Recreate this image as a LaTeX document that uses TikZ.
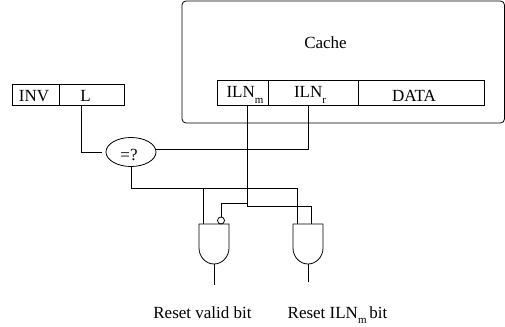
\documentclass[tikz,border=0pt]{standalone}
\usepackage{fontspec}
\setmainfont{Liberation Serif}
\usetikzlibrary{shapes.geometric}
\newcommand{\lowsub}[1]{\raisebox{-5.5pt}{\fontsize{11}{12}\selectfont #1}}
\tikzset{
    cell/.style={draw, line width=0.8pt, minimum height=25pt, inner sep=0pt},
    lbl/.style={inner sep=0pt, anchor=base, font=\fontsize{17}{18}\selectfont},
    wire/.style={line width=0.8pt},
}
\begin{document}
\begin{tikzpicture}[x=1pt,y=-1pt]
    \useasboundingbox (0,0) rectangle (505,326);

    % Cache
    \draw[wire, rounded corners=4pt] (182,1) rectangle (504.5,123);
    \node[lbl] (cache) at (325.5,48.5) {Cache};

    % Ligne du cache
    \node[cell, minimum width=51pt] (ilnm) at (242.5,92.5) {};
    \node[cell, minimum width=90pt] (ilnr) at (313,92.5) {};
    \node[cell, minimum width=126pt] (data) at (421,92.5) {};
    \node[lbl] (ilnmtxt) at (245,98) {ILN\lowsub{m}};
    \node[lbl] (ilnrtxt) at (310,98) {ILN\lowsub{r}};
    \node[lbl] (datatxt) at (414,102) {DATA};

    % Registre
    \node[cell, minimum width=47pt, minimum height=21pt] (inv) at (35.5,94.5) {};
    \node[cell, minimum width=65pt, minimum height=21pt] (l) at (91.5,94.5) {};
    \node[lbl] (invtxt) at (34,102) {INV};
    \node[lbl] (ltxt) at (85.5,102) {L};

    % Comparateur
    \node[draw, wire, ellipse, minimum width=50pt, minimum height=29pt, inner sep=0pt] (cmp) at (131,152) {};
    \node[lbl] (cmptxt) at (129,160) {=?};

    % Portes
    \draw[wire] (199,224) -- (229,224) -- (229,248)
        .. controls (229,257) and (222,264) .. (214,264)
        .. controls (206,264) and (199,257) .. (199,248) -- cycle;
    \draw[wire] (293,224) -- (323,224) -- (323,248)
        .. controls (323,257) and (316,264) .. (308,264)
        .. controls (300,264) and (293,257) .. (293,248) -- cycle;
    \node[draw, wire, circle, minimum size=7pt, inner sep=0pt] (bubble) at (221,220.5) {};

    % Connexions
    \coordinate (lout) at (81,105);
    \coordinate (cmpin) at (102,152);
    \draw[wire] (lout) |- (cmpin);
    \coordinate (rout) at (308,105);
    \draw[wire] (rout) |- (cmp.east |- 0,149);
    \coordinate (g1a) at (203,224);
    \coordinate (g2a) at (297,224);
    \coordinate (g2b) at (311,224);
    \draw[wire] (cmp.south) -- (131,188) -- (297,188) -- (g2a);
    \draw[wire] (203,188) -- (g1a);
    \coordinate (mout) at (247,105);
    \draw[wire] (mout) -- (247,206) -- (311,206) -- (g2b);
    \draw[wire] (247,203) -- (221,203) -- (bubble.north);

    % Sorties
    \coordinate (o1a) at (214,264);
    \coordinate (o1b) at (214,285);
    \coordinate (o2a) at (308,264);
    \coordinate (o2b) at (308,282);
    \draw[wire] (o1a) -- (o1b);
    \draw[wire] (o2a) -- (o2b);

    \node[lbl] (resetv) at (202.5,318) {Reset valid bit};
    \node[lbl] (resetm) at (337.5,318) {Reset ILN\lowsub{m}\,bit};
\end{tikzpicture}
\end{document}
